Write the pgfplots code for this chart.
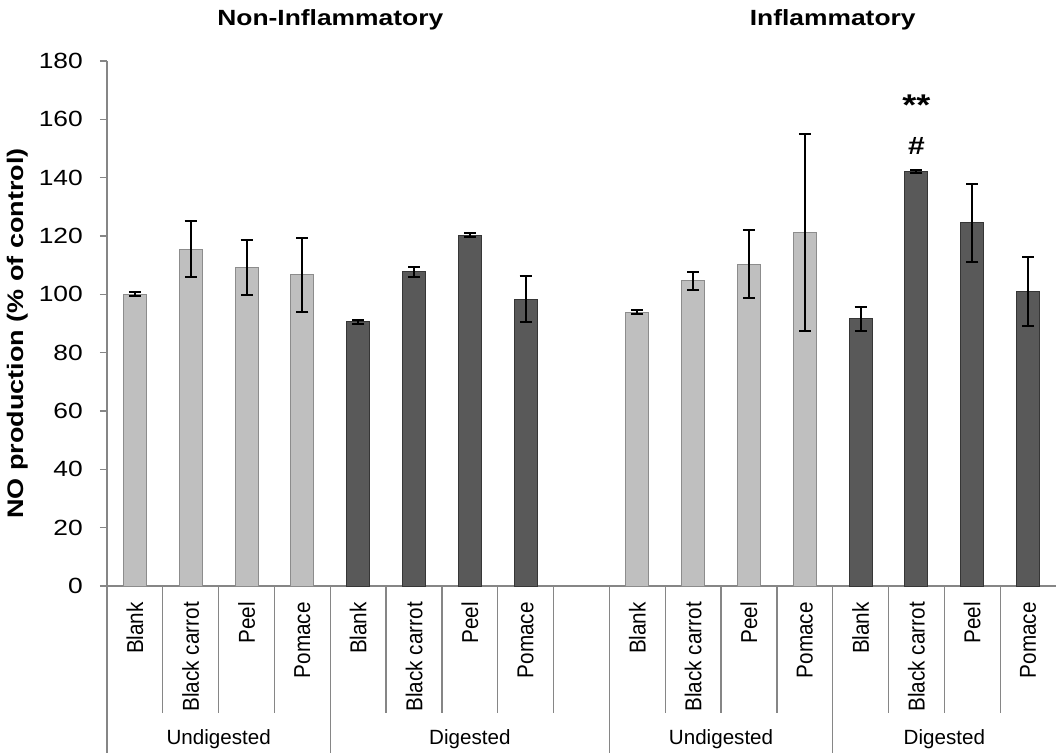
\documentclass[border=0pt]{standalone}
\usepackage{fontspec}
\setmainfont{Liberation Sans}[FakeStretch=1.2]
\newfontfamily\catfont{Liberation Sans}[FakeStretch=0.9]
\newfontfamily\grpfont{Liberation Sans}
\usepackage{pgfplots}
\pgfplotsset{compat=1.18}
\definecolor{lightbar}{HTML}{BFBFBF}
\definecolor{lightedge}{HTML}{8C8C8C}
\definecolor{darkbar}{HTML}{595959}
\definecolor{darkedge}{HTML}{363636}
\definecolor{axisgray}{HTML}{868686}
\begin{document}
\begin{tikzpicture}
\begin{axis}[
 scale only axis, width=949pt, height=525pt,
 xmin=-0.5, xmax=16.5, ymin=0, ymax=180,
 axis x line*=bottom, axis y line*=left,
 axis line style={axisgray, line width=1.3pt},
 ytick={0,20,...,180},
 tick align=outside, major tick length=7pt,
 ytick style={axisgray, line width=1.3pt},
 xtick={0,1,2,3,4,5,6,7,9,10,11,12,13,14,15,16},
 xticklabels={Blank,Black carrot,Peel,Pomace,Blank,Black carrot,Peel,Pomace,Blank,Black carrot,Peel,Pomace,Blank,Black carrot,Peel,Pomace},
 xtick style={draw=none},
 xticklabel style={rotate=90, anchor=east, inner sep=0pt, font=\catfont\fontsize{23}{26}\selectfont},
 xticklabel shift=9pt,
 yticklabel style={font=\fontsize{22}{24}\selectfont, inner sep=0pt, anchor=east},
 yticklabel shift=17pt,
 /pgf/number format/assume math mode=true,
 ybar, bar width=23pt, bar shift=0pt,
 clip=false,
 error bars/error bar style={black, line width=2pt},
]
\addplot[fill=lightbar, draw=lightedge, line width=1pt,
  error bars/.cd, y dir=both, y explicit,
  error mark options={black, line width=2pt, mark size=6pt, rotate=90}]
coordinates {
 (0,100.0) +- (0,0.7)
 (1,115.5) +- (0,9.5)
 (2,109.2) +- (0,9.5)
 (3,106.7) +- (0,12.7)
 (9,93.8) +- (0,0.7)
 (10,104.6) +- (0,3.1)
 (11,110.4) +- (0,11.7)
 (12,121.3) +- (0,33.7)
};
\addplot[fill=darkbar, draw=darkedge, line width=1pt,
  error bars/.cd, y dir=both, y explicit,
  error mark options={black, line width=2pt, mark size=6pt, rotate=90}]
coordinates {
 (4,90.6) +- (0,0.7)
 (5,107.8) +- (0,1.7)
 (6,120.2) +- (0,0.7)
 (7,98.4) +- (0,7.8)
 (13,91.6) +- (0,4.0)
 (14,142.2) +- (0,0.6)
 (15,124.5) +- (0,13.4)
 (16,101.0) +- (0,11.7)
};
\pgfplotsinvokeforeach{0.5,1.5,2.5,4.5,5.5,6.5,7.5,9.5,10.5,11.5,13.5,14.5,15.5}{
  \draw[axisgray, line width=1.3pt] (axis cs:#1,0) -- ++(0pt,-127pt);
}
\pgfplotsinvokeforeach{-0.5,3.5,8.5,12.5}{
  \draw[axisgray, line width=1.3pt] (axis cs:#1,0) -- ++(0pt,-167pt);
}
\node[font=\grpfont\fontsize{20.6}{24}\selectfont] at (axis cs:1.5,0) [yshift=-153pt] {Undigested};
\node[font=\grpfont\fontsize{20.6}{24}\selectfont] at (axis cs:6,0) [yshift=-153pt] {Digested};
\node[font=\grpfont\fontsize{20.6}{24}\selectfont] at (axis cs:10.5,0) [yshift=-153pt] {Undigested};
\node[font=\grpfont\fontsize{20.6}{24}\selectfont] at (axis cs:14.5,0) [yshift=-153pt] {Digested};
\node[font=\bfseries\fontsize{22}{26}\selectfont] at (axis cs:3.5,180) [yshift=41pt] {Non-Inflammatory};
\node[font=\bfseries\fontsize{22}{26}\selectfont] at (axis cs:12.5,180) [yshift=41pt] {Inflammatory};
\node[font=\bfseries\fontsize{25}{28}\selectfont] at (axis cs:14,151) {\#};
\node[font=\bfseries\fontsize{30}{32}\selectfont] at (axis cs:14,165) {**};
\node[font=\bfseries\fontsize{22.5}{26}\selectfont, xshift=-89pt, yshift=-10pt, rotate=90] at (rel axis cs:0,0.5) {NO production (\% of control)};
\end{axis}
\pgfresetboundingbox
\path (-107pt,-167pt) rectangle (949pt,586pt);
\end{tikzpicture}
\end{document}
